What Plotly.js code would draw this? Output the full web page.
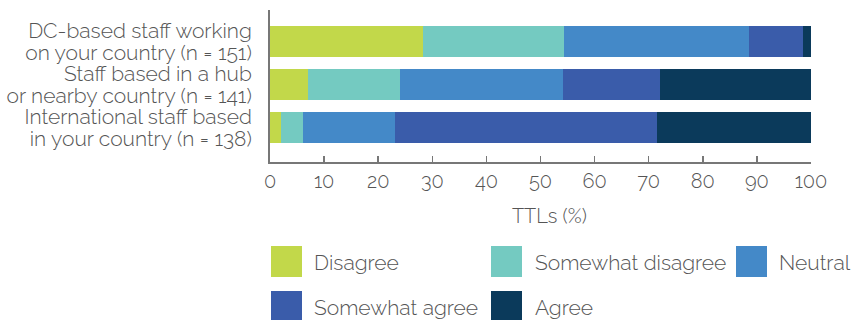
<!DOCTYPE html>
<html>
<head>
<meta charset="utf-8">
<script src="https://cdn.plot.ly/plotly-3.0.1.min.js"></script>
<style>html,body{margin:0;padding:0;background:#fff;}#chart{width:851px;height:320px;}</style>
</head>
<body>
<div id="chart"></div>
<script>
const categories = [
  "DC-based staff working<br>on your country (n = 151)",
  "Staff based in a hub<br>or nearby country (n = 141)",
  "International staff based<br>in your country (n = 138)"
];
const seriesNames = ["Disagree", "Somewhat disagree", "Neutral", "Somewhat agree", "Agree"];
const disagree = [28.3, 7.0, 2.0];
const somewhatDisagree = [26.0, 17.0, 4.1];
const neutral = [34.2, 30.2, 17.0];
const somewhatAgree = [10.0, 17.9, 48.4];
const agree = [1.5, 27.9, 28.5];
const colors = ["#C2D84A", "#74CAC1", "#4489C8", "#3A5CAA", "#0B3A5B"];
const xTicks = [0, 10, 20, 30, 40, 50, 60, 70, 80, 90, 100];
const xTitle = "TTLs (%)";

const FONT = "Raleway, Lato, 'Open Sans', sans-serif";
const values = [disagree, somewhatDisagree, neutral, somewhatAgree, agree];
const idx = categories.map((c, i) => i);
const traces = values.map((v, k) => ({
  type: "bar",
  orientation: "h",
  name: seriesNames[k],
  x: v,
  y: idx,
  marker: {color: colors[k], line: {width: 0}},
  hoverinfo: "x+name"
}));

// two-line category labels placed as separate ticks for tighter line spacing
const yTickVals = [], yTickText = [];
categories.forEach((c, i) => {
  const lines = c.split("<br>");
  yTickVals.push(i - 0.25, i + 0.25);
  yTickText.push(lines[0], lines[1]);
});

const W = 851, L = 270, R = 40, T = 10, B = 158, H = 320;
const pw = W - L - R, ph = H - T - B;
const px = x => (x - L) / pw;
const py = y => (H - B - y) / ph;

// legend layout (pixel positions of swatches)
const legendPos = [
  {sx: 271, tx: 312, row: 0},
  {sx: 491, tx: 533, row: 0},
  {sx: 736, tx: 777, row: 0},
  {sx: 271, tx: 312, row: 1},
  {sx: 491, tx: 533, row: 1}
];
const rowTop = [246, 291];
const shapes = [], annotations = [];
legendPos.forEach((p, k) => {
  const top = rowTop[p.row];
  shapes.push({type: "rect", xref: "paper", yref: "paper",
    x0: px(p.sx), x1: px(p.sx + 31), y0: py(top), y1: py(top + 31),
    fillcolor: colors[k], line: {width: 0}});
  annotations.push({xref: "paper", yref: "paper", x: px(p.tx), y: py(top + 16),
    xanchor: "left", yanchor: "middle", showarrow: false, text: seriesNames[k],
    font: {family: FONT, size: 21, color: "#555", weight: 300}});
});
annotations.push({xref: "paper", yref: "paper", x: px(549), y: py(216),
  xanchor: "center", yanchor: "middle", showarrow: false, text: xTitle,
  font: {family: FONT, size: 20, color: "#555", weight: 300}});

const layout = {
  width: W, height: H,
  margin: {l: L, r: R, t: T, b: B, pad: 0},
  barmode: "stack",
  bargap: 0.28,
  showlegend: false,
  paper_bgcolor: "#fff",
  plot_bgcolor: "#fff",
  font: {family: FONT, color: "#555", weight: 300},
  xaxis: {
    range: [0, 100], tickvals: xTicks, ticktext: xTicks.map(String),
    ticks: "inside", ticklen: 6, tickwidth: 1.5, tickcolor: "#777",
    showline: true, linecolor: "#777", linewidth: 2,
    showgrid: false, zeroline: false,
    tickfont: {size: 20, color: "#555"}
  },
  yaxis: {
    range: [2.8, -0.73], tickvals: yTickVals, ticktext: yTickText,
    showline: true, linecolor: "#777", linewidth: 2,
    showgrid: false, zeroline: false, ticks: "", ticklabelstandoff: 12,
    tickfont: {size: 21, color: "#555"}
  },
  shapes: shapes,
  annotations: annotations
};

Plotly.newPlot("chart", traces, layout, {displayModeBar: false, staticPlot: true});
</script>
</body>
</html>
